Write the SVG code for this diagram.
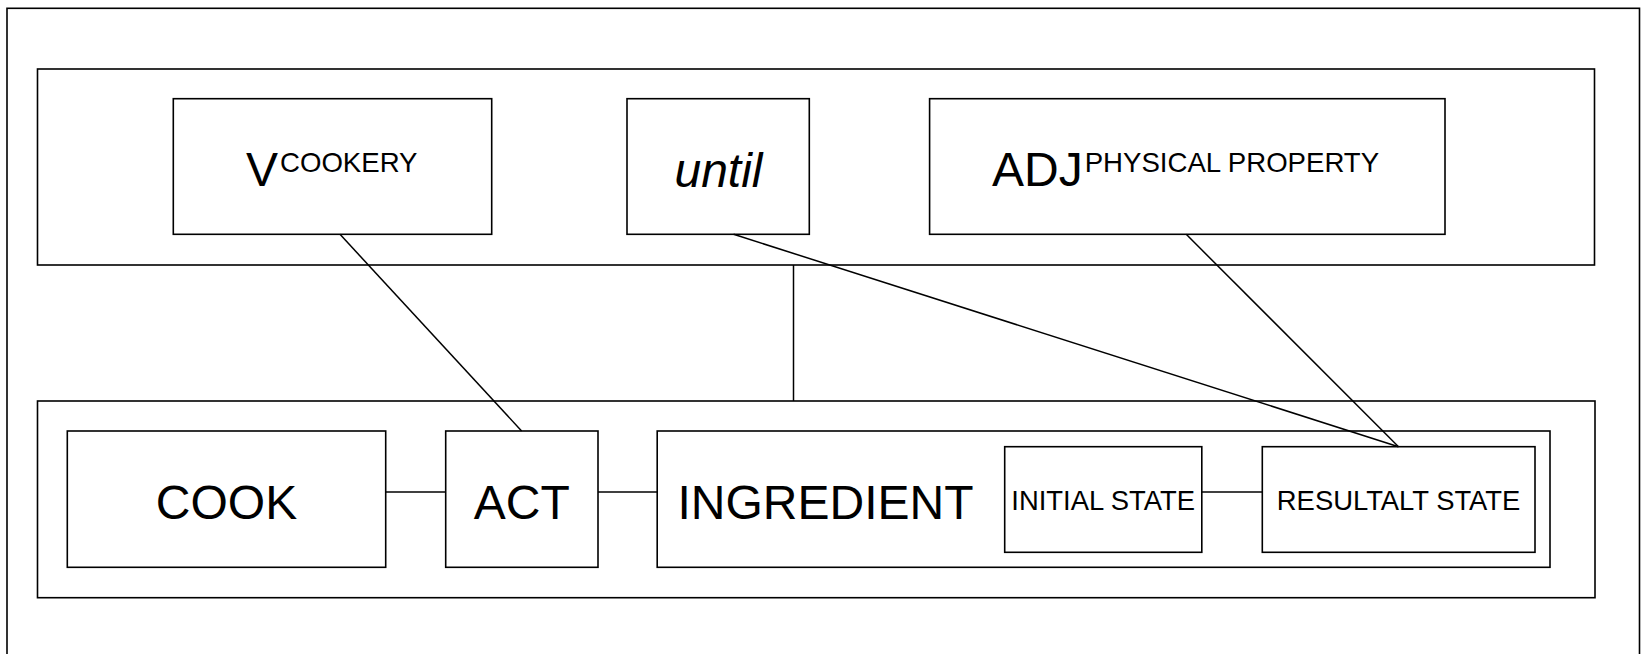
<svg xmlns="http://www.w3.org/2000/svg" width="1642" height="654" viewBox="0 0 1642 654">
  <style>
    rect { fill: #ffffff; stroke: #000000; stroke-width: 1.6; }
    line { stroke: #000000; stroke-width: 1.5; }
    text { font-family: "Liberation Sans", Arial, sans-serif; fill: #000000; }
    .big { font-size: 48px; }
    .mid { font-size: 27.6px; }
    .small { font-size: 27.4px; }
    .it { font-style: italic; }
  </style>

  <!-- outer frame (runs past the bottom edge) -->
  <rect id="frame" x="7" y="8.3" width="1632.5" height="700"/>

  <!-- upper band: lexical items -->
  <g id="lexical-panel">
    <rect x="37.5" y="69" width="1557" height="196"/>
  </g>
  <g id="v-cookery">
    <rect x="173.3" y="98.7" width="318.4" height="135.6"/>
    <text x="246" y="185.5" class="big">V<tspan class="mid" y="172.3" dx="2">COOKERY</tspan></text>
  </g>
  <g id="until">
    <rect x="627" y="98.7" width="182.3" height="135.6"/>
    <text x="718.5" y="186.5" class="big it" text-anchor="middle">until</text>
  </g>
  <g id="adj-physical-property">
    <rect x="929.6" y="98.7" width="515.4" height="135.6"/>
    <text x="992" y="185.5" class="big">ADJ<tspan class="mid" y="172.3" dx="2">PHYSICAL PROPERTY</tspan></text>
  </g>

  <!-- lower band: cooking frame -->
  <g id="frame-panel">
    <rect x="37.5" y="401" width="1557.5" height="196.7"/>
  </g>
  <g id="cook">
    <rect x="67.3" y="431" width="318.4" height="136.3"/>
    <text x="226.5" y="519.3" class="big" text-anchor="middle">COOK</text>
  </g>
  <g id="act">
    <rect x="445.7" y="431" width="152.3" height="136.3"/>
    <text x="521.8" y="519.3" class="big" text-anchor="middle">ACT</text>
  </g>
  <g id="ingredient">
    <rect x="657.2" y="431" width="892.8" height="136.3"/>
    <text x="677.5" y="519.3" class="big">INGREDIENT</text>
  </g>
  <g id="initial-state">
    <rect x="1004.7" y="446.7" width="197.1" height="105.6"/>
    <text x="1103.2" y="510" class="small" text-anchor="middle">INITIAL STATE</text>
  </g>
  <g id="resultant-state">
    <rect x="1262.3" y="446.7" width="272.7" height="105.6"/>
    <text x="1398.6" y="510" class="small" text-anchor="middle">RESULTALT STATE</text>
  </g>

  <!-- connectors -->
  <g id="connectors">
    <line x1="340" y1="234.3" x2="521.6" y2="431"/>
    <line x1="733.6" y1="234.3" x2="1398.5" y2="446.7"/>
    <line x1="1186.2" y1="234.3" x2="1398.5" y2="446.7"/>
    <line x1="793.5" y1="265" x2="793.5" y2="401"/>
    <line x1="385.7" y1="492" x2="445.7" y2="492"/>
    <line x1="598" y1="492" x2="657.2" y2="492"/>
    <line x1="1201.8" y1="492" x2="1262.3" y2="492"/>
  </g>
</svg>
